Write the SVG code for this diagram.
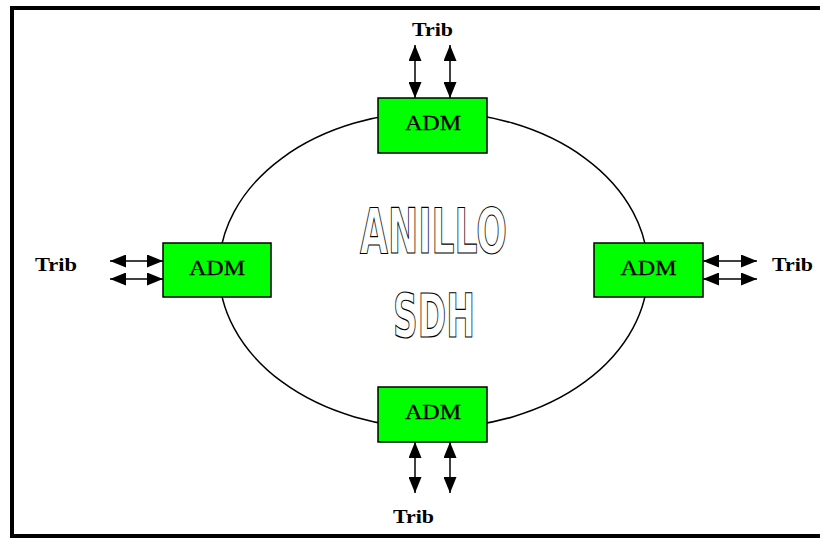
<svg xmlns="http://www.w3.org/2000/svg" width="820" height="539" viewBox="0 0 820 539">
<style>
.box{fill:#00ff00;stroke:#000;stroke-width:1.5}
.lbl{font-family:"Liberation Serif",serif;font-size:21px;fill:#000;text-anchor:middle;stroke:#000;stroke-width:0.3}
.trib{font-family:"Liberation Serif",serif;font-size:19px;font-weight:bold;fill:#000}
.ln{stroke:#000;stroke-width:1.5;fill:none}
.big{font-family:"DejaVu Sans","Liberation Sans",sans-serif;font-weight:bold;fill:#fff;stroke:#000;stroke-width:1.2;text-anchor:middle}
</style>
<defs>
<marker id="ah" viewBox="0 0 16 13" refX="16" refY="6.5" markerWidth="16" markerHeight="13" markerUnits="userSpaceOnUse" orient="auto-start-reverse">
<path d="M0,0 L16,6.5 L0,13 Z" fill="#000"/>
</marker>
</defs>
<rect x="0" y="0" width="820" height="539" fill="#fff"/>
<rect x="12" y="8" width="830" height="528" fill="none" stroke="#000" stroke-width="4"/>
<g id="ring">
<ellipse cx="433.5" cy="270" rx="214.5" ry="158" class="ln" stroke-width="1"/>
</g>
<g id="title">
<text class="big" x="433.5" y="253" font-size="62" textLength="147" lengthAdjust="spacingAndGlyphs">ANILLO</text>
<text class="big" x="434" y="337" font-size="60" textLength="82" lengthAdjust="spacingAndGlyphs">SDH</text>
</g>
<g id="connectors">
<line class="ln" x1="415" y1="45" x2="415" y2="98" marker-start="url(#ah)" marker-end="url(#ah)"/>
<line class="ln" x1="450" y1="45" x2="450" y2="98" marker-start="url(#ah)" marker-end="url(#ah)"/>
<line class="ln" x1="415" y1="442" x2="415" y2="493" marker-start="url(#ah)" marker-end="url(#ah)"/>
<line class="ln" x1="450" y1="442" x2="450" y2="493" marker-start="url(#ah)" marker-end="url(#ah)"/>
<line class="ln" x1="110" y1="261" x2="163" y2="261" marker-start="url(#ah)" marker-end="url(#ah)"/>
<line class="ln" x1="110" y1="279" x2="163" y2="279" marker-start="url(#ah)" marker-end="url(#ah)"/>
<line class="ln" x1="703" y1="261" x2="757" y2="261" marker-start="url(#ah)" marker-end="url(#ah)"/>
<line class="ln" x1="703" y1="279" x2="757" y2="279" marker-start="url(#ah)" marker-end="url(#ah)"/>
</g>
<g id="adm-top">
<rect class="box" x="378" y="98" width="109" height="55"/>
<text class="lbl" x="433" y="130" textLength="56" lengthAdjust="spacingAndGlyphs">ADM</text>
</g>
<g id="adm-left">
<rect class="box" x="163" y="243" width="108" height="54"/>
<text class="lbl" x="217" y="275" textLength="56" lengthAdjust="spacingAndGlyphs">ADM</text>
</g>
<g id="adm-right">
<rect class="box" x="594" y="243" width="109" height="54"/>
<text class="lbl" x="648.5" y="275" textLength="56" lengthAdjust="spacingAndGlyphs">ADM</text>
</g>
<g id="adm-bottom">
<rect class="box" x="378" y="387" width="109" height="55"/>
<text class="lbl" x="433" y="419" textLength="56" lengthAdjust="spacingAndGlyphs">ADM</text>
</g>
<g id="trib-top"><text class="trib" x="412" y="36" textLength="41" lengthAdjust="spacingAndGlyphs">Trib</text></g>
<g id="trib-left"><text class="trib" x="35" y="271" textLength="42" lengthAdjust="spacingAndGlyphs">Trib</text></g>
<g id="trib-right"><text class="trib" x="772" y="271" textLength="41" lengthAdjust="spacingAndGlyphs">Trib</text></g>
<g id="trib-bottom"><text class="trib" x="393" y="523" textLength="41" lengthAdjust="spacingAndGlyphs">Trib</text></g>
</svg>
